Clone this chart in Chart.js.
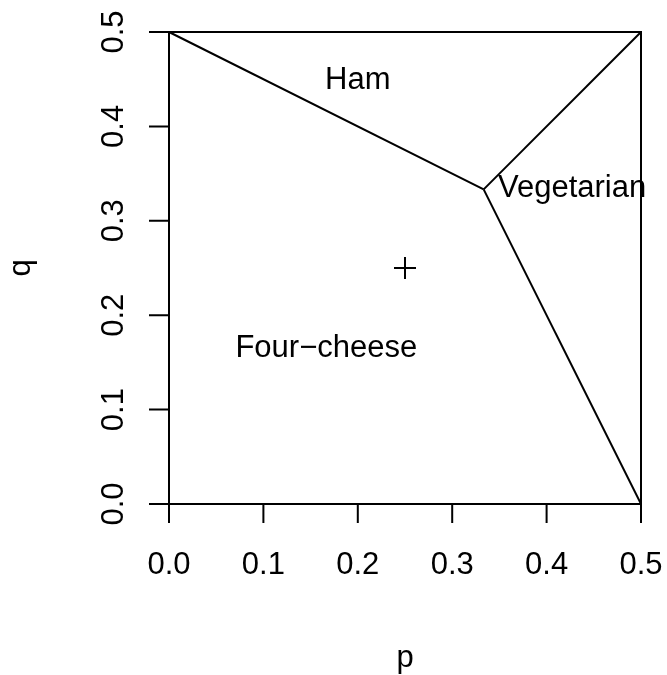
<!DOCTYPE html>
<html>
<head>
<meta charset="utf-8">
<script src="https://cdn.jsdelivr.net/npm/chart.js@4/dist/chart.umd.min.js"></script>
<style>
  html, body { margin: 0; padding: 0; background: #ffffff; }
  #wrap { width: 667px; height: 675px; position: relative; }
</style>
</head>
<body>
<div id="wrap"><canvas id="c"></canvas></div>
<script>
// ---- data ----
const xTicks = [0, 0.1, 0.2, 0.3, 0.4, 0.5];
const xTickLabels = ["0.0", "0.1", "0.2", "0.3", "0.4", "0.5"];
const yTicks = [0, 0.1, 0.2, 0.3, 0.4, 0.5];
const yTickLabels = ["0.0", "0.1", "0.2", "0.3", "0.4", "0.5"];
const xTitle = "p";
const yTitle = "q";

// boundary segments between regions (p, q)
const hamBoundary = [{x: 0, y: 0.5}, {x: 1/3, y: 1/3}];
const vegHamBoundary = [{x: 1/3, y: 1/3}, {x: 0.5, y: 0.5}];
const vegCheeseBoundary = [{x: 1/3, y: 1/3}, {x: 0.5, y: 0}];
const markerPoint = [{x: 0.25, y: 0.25}];

// region labels
const regionNames = ["Ham", "Vegetarian", "Four\u2212cheese"];
const regionX = [0.2, 0.3485, 1/6];
const regionY = [0.45, 0.336, 1/6];
const regionAlign = ["center", "left", "center"];

const FONT = '31px "Liberation Sans", Arial, Helvetica, sans-serif';

const rAxesPlugin = {
  id: 'rAxes',
  afterDatasetsDraw(chart) {
    const ctx = chart.ctx;
    const xs = chart.scales.x, ys = chart.scales.y;
    const a = chart.chartArea;
    ctx.save();
    ctx.strokeStyle = '#000';
    ctx.fillStyle = '#000';
    ctx.lineWidth = 2;
    // box
    ctx.strokeRect(a.left, a.top, a.right - a.left, a.bottom - a.top);
    // ticks
    ctx.beginPath();
    xTicks.forEach(v => {
      const px = xs.getPixelForValue(v);
      ctx.moveTo(px, a.bottom);
      ctx.lineTo(px, a.bottom + 19);
    });
    yTicks.forEach(v => {
      const py = ys.getPixelForValue(v);
      ctx.moveTo(a.left, py);
      ctx.lineTo(a.left - 20, py);
    });
    ctx.stroke();
    ctx.font = FONT;
    // x tick labels
    ctx.textAlign = 'center';
    ctx.textBaseline = 'alphabetic';
    xTicks.forEach((v, i) => {
      ctx.fillText(xTickLabels[i], xs.getPixelForValue(v), a.bottom + 70);
    });
    // y tick labels (rotated)
    yTicks.forEach((v, i) => {
      ctx.save();
      ctx.translate(a.left - 46, ys.getPixelForValue(v));
      ctx.rotate(-Math.PI / 2);
      ctx.fillText(yTickLabels[i], 0, 0);
      ctx.restore();
    });
    // axis titles
    ctx.fillText(xTitle, (a.left + a.right) / 2, a.bottom + 163);
    ctx.save();
    ctx.translate(30, (a.top + a.bottom) / 2);
    ctx.rotate(-Math.PI / 2);
    ctx.fillText(yTitle, 0, 0);
    ctx.restore();
    // region labels
    regionNames.forEach((t, i) => {
      ctx.textAlign = regionAlign[i];
      ctx.fillText(t, xs.getPixelForValue(regionX[i]), ys.getPixelForValue(regionY[i]) + 10);
    });
    ctx.restore();
  }
};

const lineDs = (data) => ({
  data: data,
  showLine: true,
  borderColor: '#000',
  borderWidth: 2,
  pointRadius: 0,
  fill: false,
  clip: false
});

new Chart(document.getElementById('c'), {
  type: 'scatter',
  data: {
    datasets: [
      lineDs(hamBoundary),
      lineDs(vegHamBoundary),
      lineDs(vegCheeseBoundary),
      {
        data: markerPoint,
        pointStyle: 'cross',
        pointRadius: 11,
        pointBorderWidth: 2,
        pointBorderColor: '#000',
        pointBackgroundColor: '#000',
        showLine: false,
        clip: false
      }
    ]
  },
  options: {
    responsive: true,
    maintainAspectRatio: false,
    animation: false,
    events: [],
    layout: { padding: { left: 169, right: 26, top: 32, bottom: 171 } },
    plugins: { legend: { display: false }, tooltip: { enabled: false } },
    scales: {
      x: { type: 'linear', min: 0, max: 0.5, display: false },
      y: { type: 'linear', min: 0, max: 0.5, display: false }
    }
  },
  plugins: [rAxesPlugin]
});
</script>
</body>
</html>
